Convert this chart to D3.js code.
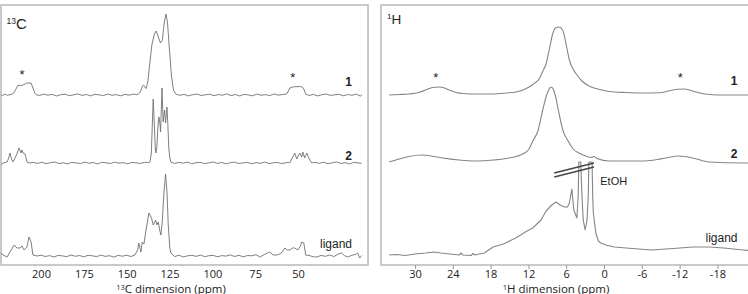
<!DOCTYPE html>
<html>

<head>
    <meta charset="utf-8">
    <style>
        body {
            margin: 0;
            background: #fff;
        }

        svg {
            display: block;
            font-family: Arial, 'Liberation Sans', sans-serif;
        }

        .frame {
            fill: none;
            stroke: #b8b8b8;
            stroke-width: 1.5;
        }

        .trace {
            fill: none;
            stroke-linejoin: round;
        }

        .c13 {
            stroke: #707070;
            stroke-width: 0.9;
        }

        .h1 {
            stroke: #858585;
            stroke-width: 1.1;
        }

        .axis text {
            font-family: 'Open Sans', sans-serif;
            font-size: 11px;
            fill: #222;
        }

        .axis line {
            stroke: #999;
        }

        .axis .domain {
            display: none;
        }

        .lbl {
            font-size: 12px;
            fill: #222;
        }

        .num {
            font-size: 12px;
            font-weight: bold;
            fill: #222;
        }

        .star {
            font-size: 13px;
            fill: #222;
        }

        .ax-title {
            font-family: 'Open Sans', sans-serif;
            font-size: 11.5px;
            fill: #222;
        }
    </style>
    <title>13C and 1H NMR spectra</title>
</head>

<body>
    <svg width="748" height="294"></svg>

    <script src="https://cdn.jsdelivr.net/npm/d3@7"></script>
    <script>
        // values are [ppm, intensity (a.u.)]
        let c13Ticks = [200, 175, 150, 125, 100, 75, 50]
        let h1Ticks = [30, 24, 18, 12, 6, 0, -6, -12, -18]
        let traceLabels = ["1", "2", "ligand"]

        let c13Sample1 = [
            [223.3, 0.5], [222.5, -0.6], [221.0, 0.8], [219.6, -0.3], [218.1, 0.4], [216.6, 1.0], [215.2, 4],
            [213.4, 10], [212.0, 9.5], [210.5, 10], [209.3, 11], [208.2, 12], [205.8, 12], [204.7, 7], [203.6, 2], [202.9, 0.5],
            [201.0, -0.5], [198.5, 0.9], [196.0, -0.2], [193.5, 0.6], [191.0, -1.0], [188.5, 0.3], [186.0, 0.8], [183.5, -0.7],
            [181.0, 0.2], [178.5, 1.1], [176.0, -0.4], [173.5, 0.5], [171.0, -0.9], [168.5, 0.7], [166.0, 0.1], [163.5, -0.6],
            [161.0, 1.0], [158.5, -0.3], [156.0, 0.4], [153.5, -0.8], [151.0, 0.6], [148.5, -0.2], [146.0, 0.9], [144.0, 0.3],
            [142.5, 2], [141.7, 4.5], [140.8, 9], [140.2, 10], [139.4, 8], [138.6, 6.5], [137.6, 14], [136.4, 33], [135.3, 50],
            [133.8, 61], [132.7, 64], [131.5, 58], [130.3, 52], [129.2, 55], [128.0, 73], [127.1, 81], [126.2, 73], [125.1, 47],
            [123.9, 20], [122.7, 5], [121.3, 1],
            [119.0, -0.4], [116.5, 0.7], [114.0, -0.9], [111.5, 0.3], [109.0, 1.0], [106.5, -0.5], [104.0, 0.2], [101.5, 0.8],
            [99.0, -0.7], [96.5, 0.4], [94.0, -0.2], [91.5, 1.1], [89.0, -0.6], [86.5, 0.5], [84.0, -1.0], [81.5, 0.6],
            [79.0, 0.1], [76.5, -0.8], [74.0, 0.9], [71.5, -0.3], [69.0, 0.4], [66.5, -0.6], [64.0, 1.0], [61.5, -0.2],
            [59.0, 0.5], [57.5, 0.8],
            [56.6, 1], [55.6, 4], [54.8, 7], [53.1, 8], [51.5, 8.3], [49.0, 8.5], [47.5, 8], [46.6, 6], [45.5, 1],
            [43.5, -0.5], [41.0, 0.6], [38.5, -0.9], [36.0, 0.3], [33.5, 1.0], [31.0, -0.4], [28.5, 0.2], [26.0, 0.7],
            [23.5, -0.8], [21.0, 0.5], [18.5, -0.3], [16.0, 0.9], [13.5, -1.2], [12.8, 0.4]
        ]

        let c13Sample2 = [
            [223.3, -2], [222.2, 0], [219.8, 1], [218.9, 5], [218.1, 10], [217.2, 4], [216.3, 1], [214.6, 7], [213.4, 12],
            [212.8, 15], [211.7, 10], [211.1, 13], [210.5, 10], [209.3, 9], [208.2, 1], [207.0, 0],
            [204.5, 0.6], [202.0, -0.4], [199.5, 0.8], [197.0, -0.7], [194.5, 0.3], [192.0, 1.0], [189.5, -0.5], [187.0, 0.2],
            [184.5, -0.9], [182.0, 0.6], [179.5, 0.1], [177.0, -0.6], [174.5, 0.9], [172.0, -0.3], [169.5, 0.5], [167.0, -1.0],
            [164.5, 0.7], [162.0, 0.2], [159.5, -0.5], [157.0, 0.8], [154.5, -0.2], [152.0, 0.4], [149.5, -0.8], [147.0, 0.6],
            [144.5, 0.1], [142.0, -0.4], [139.5, 0.7], [137.5, 0.3],
            [136.4, 1], [135.6, 10], [135.0, 40], [134.5, 64], [133.9, 40], [133.3, 15], [133.0, 10], [132.4, 15], [131.8, 35],
            [131.2, 46], [130.6, 40], [130.2, 31], [129.4, 75], [128.7, 41], [127.9, 53], [127.3, 40], [126.5, 56], [126.0, 40],
            [125.4, 15], [124.8, 5], [124.2, 1],
            [122.0, -0.5], [119.5, 0.7], [117.0, -0.2], [114.5, 0.9], [112.0, -0.8], [109.5, 0.3], [107.0, 0.6], [104.5, -0.6],
            [102.0, 0.2], [99.5, 1.0], [97.0, -0.4], [94.5, 0.5], [92.0, -0.9], [89.5, 0.3], [87.0, 0.8], [84.5, -0.5],
            [82.0, 0.1], [79.5, 0.7], [77.0, -0.8], [74.5, 0.4], [72.0, -0.3], [69.5, 0.9], [67.0, -0.6], [64.5, 0.2],
            [62.0, 0.6], [59.5, -0.7], [57.0, 0.3], [55.5, 0.5],
            [54.8, 0], [53.1, 6], [51.9, 10], [50.7, 4], [49.0, 10], [47.8, 6], [47.2, 11], [46.1, 5], [44.9, 10], [43.7, 5], [42.0, 0],
            [40.0, 0.6], [37.5, -0.4], [35.0, 0.8], [32.5, -0.7], [30.0, 0.2], [27.5, 1.0], [25.0, -0.5], [22.5, 0.4],
            [20.0, -0.9], [17.5, 0.6], [15.0, 0.1], [12.8, -0.3]
        ]

        let c13Ligand = [
            [223.3, 3], [222.2, 1], [219.8, -1], [218.1, 4], [215.7, 11], [214.0, 8], [212.2, 8], [211.1, 10], [209.9, 6],
            [208.2, 9], [207.0, 19], [205.8, 14], [204.7, 1], [202.3, 0],
            [200.0, 0.8], [197.5, -0.5], [195.0, 0.4], [192.5, -1.0], [190.0, 0.6], [187.5, 0.1], [185.0, -0.7], [182.5, 1.0],
            [180.0, -0.3], [177.5, 0.5], [175.0, -0.9], [172.5, 0.7], [170.0, 0.2], [167.5, -0.6], [165.0, 0.9], [162.5, -0.4],
            [160.0, 0.3], [157.5, -1.1], [155.0, 0.6], [152.5, -0.2], [150.0, 0.8], [147.5, -0.5], [145.2, 1],
            [143.6, 6], [142.9, 13], [141.7, 4], [140.9, 14], [139.9, 12], [138.8, 25], [137.0, 43], [135.5, 38], [134.5, 31],
            [133.1, 36], [132.4, 31], [131.6, 34], [130.6, 25], [130.0, 21], [129.2, 35], [128.3, 62], [127.3, 82], [126.5, 65],
            [125.7, 30], [124.8, 8], [124.2, 3],
            [122.0, -0.6], [119.5, 0.8], [117.0, -0.9], [114.5, 0.2], [112.0, 0.7], [109.5, -0.4], [107.0, 1.0], [104.5, -0.7],
            [102.0, 0.3], [99.5, 0.6], [97.0, -0.8], [94.5, 0.4], [92.0, -0.1], [89.5, 1.1], [87.0, -0.5], [84.5, 0.7],
            [82.0, -0.9], [79.5, 0.5], [77.0, 0.2], [74.5, 1.3], [72.3, -1], [69.5, 1.5], [66.5, 4], [64.5, 1], [62.4, 1],
            [60.0, 2.5], [57.7, 8], [56.2, 6], [54.8, 6], [53.2, 8], [51.9, 8], [50.1, 6], [48.6, 10], [47.8, 14], [46.6, 13],
            [45.5, 1], [43.0, 0.3], [41.0, -0.8], [39.1, -1], [36.5, 0.6], [34.0, -0.3], [31.5, 1.0], [29.0, -0.5], [26.5, 2],
            [24.5, 3], [23.0, 0.5], [21.0, -1], [18.5, 0.8], [16.5, 1.5], [15.2, 3], [14.0, -2], [12.8, 0.5]
        ]

        let h1Sample1 = [
            [34.1, 0], [32.5, 0.5], [31.0, 1], [29.4, 2.5], [28.3, 5], [27.2, 7.5], [26.3, 8], [25.3, 7], [24.6, 5],
            [23.5, 2.5], [22.4, 1.5], [20.0, 1], [17.6, 1], [15.5, 2], [14.0, 3], [12.5, 6], [11.9, 8], [11.0, 12],
            [10.3, 16], [9.7, 24], [9.2, 31], [8.7, 45], [8.2, 60], [7.7, 67], [7.1, 68], [6.5, 64], [6.0, 50], [5.5, 35],
            [5.0, 27], [4.4, 21], [3.5, 14], [2.4, 9], [1.0, 6], [-0.8, 3.5], [-3.5, 2.5], [-6.5, 2], [-8.7, 2.2],
            [-10.6, 4.5], [-11.7, 5.8], [-12.7, 6], [-13.8, 4.5], [-14.6, 3], [-16.7, 0.5], [-19.0, 0], [-23.0, 0]
        ]

        let h1Sample2 = [
            [34.1, 0], [32.5, 3], [31.0, 5.5], [29.0, 7], [27.0, 5.5], [25.6, 4], [23.0, 2], [20.3, 1], [17.5, 2], [15.1, 4],
            [12.9, 8], [11.9, 13], [11.3, 21], [10.5, 31], [9.73, 52], [9.2, 65], [8.8, 72], [8.4, 75], [8.0, 72], [7.6, 63],
            [7.35, 55], [6.5, 31], [5.7, 21], [4.9, 13], [4.0, 9], [2.9, 6], [2.0, 4.5], [1.6, 5.5], [1.1, 3.5], [-0.8, 1],
            [-6.2, 1], [-8.5, 2.5], [-9.8, 4], [-11.9, 6], [-14.1, 4], [-16.7, 0], [-22.1, -1], [-23.0, -1]
        ]

        let h1Ligand = [
            [34.1, 1], [33.0, 1.5], [31.5, 0.5], [30.0, 2], [28.3, 3], [27.0, 4], [25.9, 3], [24.5, 2], [23.0, 1], [22.7, 3],
            [22.4, 1], [21.1, 0.5], [20.8, 2.5], [20.5, 1], [19.0, 3], [17.6, 9], [16.0, 12], [14.0, 18], [12.5, 24], [11.3, 28],
            [10.0, 36], [9.2, 45], [8.3, 51], [7.6, 54], [7.0, 51], [6.3, 49], [5.8, 49], [5.5, 53], [5.1, 67], [4.8, 46],
            [4.3, 38], [4.1, 60], [4.0, 94], [3.7, 94], [3.5, 60], [3.3, 36], [3.0, 26], [2.7, 36], [2.5, 60], [2.4, 94],
            [1.9, 94], [1.8, 60], [1.7, 43], [1.3, 23], [0.9, 15], [0.5, 13], [-0.3, 11], [-1.6, 9], [-3.5, 8], [-5.5, 7],
            [-7.5, 6], [-8.7, 6.5], [-11.0, 7.5], [-14.1, 9], [-16.7, 9], [-19.0, 8], [-22.1, 6], [-23.0, 5.5]
        ]

        let c13Sidebands = [211.1, 53.1]
        let h1Sidebands = [26.7, -12.1]

        // --- layout ---
        let svg = d3.select("svg")
        let plotTop = 5, plotBottom = 265

        let xC = d3.scaleLinear().domain([223.35, 9.14]).range([1, 368])
        let xH = d3.scaleLinear().domain([35.4, -23.17]).range([381, 750])
        let baseC = [95, 163, 256]
        let baseH = [95, 162, 256]

        let yFor = base => d3.scaleLinear().domain([0, 100]).range([base, base - 100])

        let defs = svg.append("defs")
        defs.append("clipPath").attr("id", "clipC")
            .append("rect").attr("x", 1).attr("y", plotTop).attr("width", 367).attr("height", plotBottom - plotTop)
        defs.append("clipPath").attr("id", "clipH")
            .append("rect").attr("x", 381).attr("y", plotTop).attr("width", 380).attr("height", plotBottom - plotTop)

        // frames
        svg.append("rect").attr("class", "frame")
            .attr("x", 1).attr("y", plotTop).attr("width", 367).attr("height", plotBottom - plotTop)
        svg.append("rect").attr("class", "frame")
            .attr("x", 381).attr("y", plotTop).attr("width", 380).attr("height", plotBottom - plotTop)

        // axes (plain hyphen for negatives, as in the original)
        svg.append("g").attr("class", "axis")
            .attr("transform", `translate(0,${plotBottom})`)
            .call(d3.axisBottom(xC).tickValues(c13Ticks).tickSize(0).tickPadding(5))

        svg.append("g").attr("class", "axis")
            .attr("transform", `translate(0,${plotBottom})`)
            .call(d3.axisBottom(xH).tickValues(h1Ticks).tickSize(4).tickPadding(1).tickFormat(d => String(d)))

        // spectra
        let gC = svg.append("g").attr("clip-path", "url(#clipC)")
        let gH = svg.append("g").attr("clip-path", "url(#clipH)")

        let c13Series = [c13Sample1, c13Sample2, c13Ligand]
        let h1Series = [h1Sample1, h1Sample2, h1Ligand]

        c13Series.forEach((s, i) => {
            let y = yFor(baseC[i])
            let line = d3.line().x(d => xC(d[0])).y(d => y(d[1]))
            gC.append("path").attr("class", "trace c13").attr("d", line(s))
        })

        h1Series.forEach((s, i) => {
            let y = yFor(baseH[i])
            let line = d3.line().x(d => xH(d[0])).y(d => y(d[1]))
            if (i < 2) line.curve(d3.curveMonotoneX)
            gH.append("path").attr("class", "trace h1").attr("d", line(s))
        })

        // truncation marks over the EtOH peaks
        let yLig = yFor(baseH[2])
        let breakMarks = [[7.9, 83, 1.6, 93], [7.9, 79, 1.6, 89]]
        svg.selectAll(".brk")
            .data(breakMarks)
            .join("line")
            .attr("class", "brk")
            .attr("x1", d => xH(d[0])).attr("y1", d => yLig(d[1]))
            .attr("x2", d => xH(d[2])).attr("y2", d => yLig(d[3]))
            .attr("stroke", "#444")
            .attr("stroke-width", 1.3)

        svg.append("text").attr("class", "lbl")
            .attr("x", xH(0.6)).attr("y", yLig(71.5))
            .style("font-size", "11px")
            .text("EtOH")

        // sideband asterisks
        let yC1 = yFor(baseC[0]), yH1 = yFor(baseH[0])
        svg.selectAll(".starC")
            .data(c13Sidebands)
            .join("text")
            .attr("class", "star")
            .attr("text-anchor", "middle")
            .attr("x", d => xC(d))
            .attr("y", (d, i) => yC1(i == 0 ? 16 : 13))
            .text("*")

        svg.selectAll(".starH")
            .data(h1Sidebands)
            .join("text")
            .attr("class", "star")
            .attr("text-anchor", "middle")
            .attr("x", d => xH(d))
            .attr("y", yH1(13))
            .text("*")

        // trace labels
        let labelYC = [86, 160, 248]
        let labelYH = [85, 158, 242]
        traceLabels.forEach((t, i) => {
            svg.append("text")
                .attr("class", i < 2 ? "num" : "lbl")
                .attr("text-anchor", "end")
                .attr("x", 352)
                .attr("y", labelYC[i])
                .text(t)
            svg.append("text")
                .attr("class", i < 2 ? "num" : "lbl")
                .attr("text-anchor", "end")
                .attr("x", 737.5)
                .attr("y", labelYH[i])
                .text(t)
        })

        // nucleus labels
        let nucC = svg.append("text").attr("x", 6.5).attr("y", 29).style("fill", "#222")
        nucC.append("tspan").attr("font-size", 8.5).attr("dy", -5.5).text("13")
        nucC.append("tspan").attr("font-size", 15).attr("dy", 5.5).text("C")

        let nucH = svg.append("text").attr("x", 387).attr("y", 23.5).style("fill", "#222")
        nucH.append("tspan").attr("font-size", 8).attr("dy", -5).text("1")
        nucH.append("tspan").attr("font-size", 13.5).attr("dy", 5).text("H")

        // axis titles (cut by the bottom edge in the original too)
        let tC = svg.append("text").attr("class", "ax-title")
            .attr("x", 171).attr("y", 293).attr("text-anchor", "middle")
        tC.append("tspan").attr("font-size", 7.5).attr("dy", -3.5).text("13")
        tC.append("tspan").attr("dy", 3.5).text("C dimension (ppm)")

        let tH = svg.append("text").attr("class", "ax-title")
            .attr("x", 556).attr("y", 293).attr("text-anchor", "middle")
        tH.append("tspan").attr("font-size", 7.5).attr("dy", -3.5).text("1")
        tH.append("tspan").attr("dy", 3.5).text("H dimension (ppm)")
    </script>
</body>

</html>
